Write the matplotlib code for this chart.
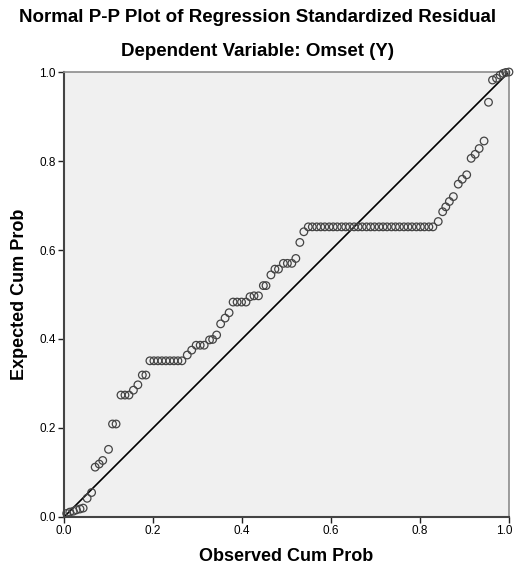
import matplotlib
matplotlib.use("Agg")
import matplotlib.pyplot as plt
import matplotlib.transforms as mtransforms

plt.rcParams['font.family'] = ['Liberation Sans', 'DejaVu Sans']

# Observed cumulative probability (x) and expected cumulative probability (y)
observed = [0.006, 0.013, 0.021, 0.028, 0.036, 0.043, 0.052, 0.062, 0.070, 0.079,
            0.087, 0.100, 0.109, 0.117, 0.128, 0.137, 0.146, 0.156, 0.166, 0.176,
            0.184, 0.193, 0.202, 0.211, 0.220, 0.229, 0.238, 0.247, 0.256, 0.265,
            0.277, 0.287, 0.297, 0.306, 0.315, 0.327, 0.334, 0.343, 0.352, 0.362,
            0.371, 0.380, 0.389, 0.399, 0.409, 0.418, 0.427, 0.437, 0.448, 0.454,
            0.465, 0.474, 0.482, 0.493, 0.502, 0.512, 0.521, 0.530, 0.539, 0.549,
            0.558, 0.568, 0.577, 0.586, 0.596, 0.605, 0.614, 0.624, 0.633, 0.642,
            0.652, 0.661, 0.670, 0.680, 0.689, 0.698, 0.708, 0.717, 0.726, 0.736,
            0.745, 0.754, 0.764, 0.773, 0.782, 0.792, 0.801, 0.810, 0.820, 0.829,
            0.841, 0.851, 0.858, 0.866, 0.875, 0.886, 0.895, 0.905, 0.915, 0.924,
            0.933, 0.944, 0.954, 0.963, 0.972, 0.980, 0.987, 0.993, 1.000]
expected = [0.008, 0.011, 0.013, 0.016, 0.018, 0.020, 0.042, 0.055, 0.112, 0.119,
            0.127, 0.152, 0.209, 0.209, 0.274, 0.274, 0.274, 0.285, 0.297, 0.319,
            0.319, 0.351, 0.351, 0.351, 0.351, 0.351, 0.351, 0.351, 0.351, 0.351,
            0.364, 0.375, 0.386, 0.386, 0.386, 0.398, 0.399, 0.409, 0.434, 0.447,
            0.459, 0.483, 0.483, 0.483, 0.483, 0.495, 0.497, 0.497, 0.520, 0.520,
            0.544, 0.557, 0.557, 0.570, 0.570, 0.570, 0.581, 0.617, 0.641, 0.652,
            0.652, 0.652, 0.652, 0.652, 0.652, 0.652, 0.652, 0.652, 0.652, 0.652,
            0.652, 0.652, 0.652, 0.652, 0.652, 0.652, 0.652, 0.652, 0.652, 0.652,
            0.652, 0.652, 0.652, 0.652, 0.652, 0.652, 0.652, 0.652, 0.652, 0.652,
            0.664, 0.686, 0.697, 0.709, 0.720, 0.748, 0.759, 0.769, 0.806, 0.815,
            0.828, 0.845, 0.932, 0.982, 0.986, 0.993, 0.997, 0.999, 1.000]
ticks = [0.0, 0.2, 0.4, 0.6, 0.8, 1.0]
tick_labels = ["0.0", "0.2", "0.4", "0.6", "0.8", "1.0"]

fig = plt.figure(figsize=(5.15, 5.67), dpi=100)
ax = fig.add_axes([0.1243, 0.0882, 0.8640, 0.7848])
ax.set_facecolor("#F0F0F0")

# reference diagonal
ax.plot([0, 1], [0, 1], color="black", linewidth=1.2, zorder=2)

ax.scatter(observed, expected, s=30, facecolors="none", edgecolors="#444444",
           linewidths=0.9, zorder=3, clip_on=False)

ax.set_xlim(0, 1)
ax.set_ylim(0, 1)
ax.set_xticks(ticks)
ax.set_yticks(ticks)
ax.set_xticklabels(tick_labels, fontsize=8.5)
ax.set_yticklabels(tick_labels, fontsize=8.5)
ax.tick_params(direction="out", length=4, width=1, color="#222222", pad=2)

# keep the last x tick label inside the figure
last = ax.get_xticklabels()[-1]
last.set_transform(last.get_transform() +
                   mtransforms.ScaledTranslation(-5 / 100, 0, fig.dpi_scale_trans))

for side in ["top", "right"]:
    ax.spines[side].set_color("#8c8c8c")
    ax.spines[side].set_linewidth(1.2)
for side in ["left", "bottom"]:
    ax.spines[side].set_color("#444444")
    ax.spines[side].set_linewidth(1.5)

ax.set_xlabel("Observed Cum Prob", fontsize=13, fontweight="bold", labelpad=8)
ax.set_ylabel("Expected Cum Prob", fontsize=13, fontweight="bold", labelpad=8)

fig.text(0.5, 1 - 18 / 567, "Normal P-P Plot of Regression Standardized Residual",
         ha="center", va="center", fontsize=13.5, fontweight="bold")
fig.text(0.5, 1 - 52 / 567, "Dependent Variable: Omset (Y)",
         ha="center", va="center", fontsize=13.5, fontweight="bold")

fig.savefig("out.png", dpi=100)
